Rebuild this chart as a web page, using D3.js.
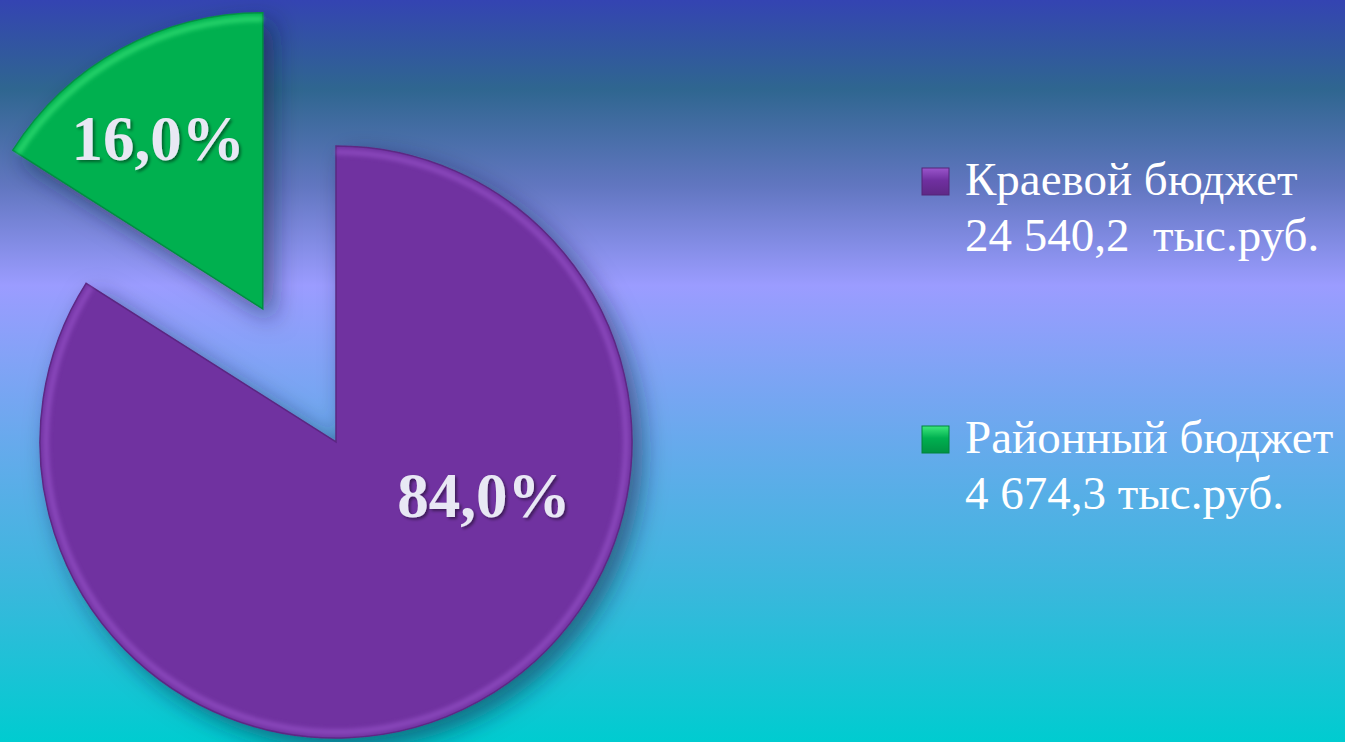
<!DOCTYPE html>
<html>
<head>
<meta charset="utf-8">
<script src="https://cdn.jsdelivr.net/npm/d3@7"></script>
<style>
  html, body { margin: 0; padding: 0; overflow: hidden; }
  svg { display: block; }
  .legend-text { font-family: "Liberation Serif", "Times New Roman", serif; fill: #ffffff; }
  .pct { font-family: "Liberation Serif", "Times New Roman", serif; font-weight: bold; fill: #e8e8f4; }
</style>
</head>
<body>
<svg></svg>
<script>
// data
const categories = ["Краевой бюджет", "Районный бюджет"];
const amounts = ["24 540,2  тыс.руб.", "4 674,3 тыс.руб."];
const values = [24540.2, 4674.3];
const percentLabels = ["84,0%", "16,0%"];
const colors = ["#7030a0", "#00b050"];
const highlights = ["#9a55cc", "#3de87c"];
const explode = [0, 152];

const width = 1345;
const height = 742;

const svg = d3.select("svg").attr("width", width).attr("height", height);
const defs = svg.append("defs");

// background gradient
const bg = defs.append("linearGradient")
  .attr("id", "bg").attr("x1", 0).attr("y1", 0).attr("x2", 0).attr("y2", 1);
[
  [0, "#3444b2"],
  [0.12, "#2f6690"],
  [0.25, "#6176c0"],
  [0.385, "#9b9cff"],
  [0.6, "#66aaec"],
  [0.8, "#38b8dc"],
  [1, "#00ccd0"],
].forEach(([o, c]) => bg.append("stop").attr("offset", o).attr("stop-color", c));

svg.append("rect").attr("width", width).attr("height", height).attr("fill", "url(#bg)");

const shadow = defs.append("filter").attr("id", "shadow")
  .attr("x", "-30%").attr("y", "-30%").attr("width", "160%").attr("height", "160%");
shadow.append("feDropShadow")
  .attr("dx", 10).attr("dy", 10).attr("stdDeviation", 12)
  .attr("flood-color", "#102040").attr("flood-opacity", 0.55);

const soft = defs.append("filter").attr("id", "soft");
soft.append("feGaussianBlur").attr("stdDeviation", 2);

const textShadow = defs.append("filter").attr("id", "tshadow");
textShadow.append("feDropShadow")
  .attr("dx", 2).attr("dy", 2).attr("stdDeviation", 1.5)
  .attr("flood-color", "#000").attr("flood-opacity", 0.45);

// legend marker bevel
colors.forEach((c, i) => {
  const lg = defs.append("linearGradient")
    .attr("id", `mk${i}`).attr("x1", 0).attr("y1", 0).attr("x2", 0).attr("y2", 1);
  lg.append("stop").attr("offset", 0).attr("stop-color", highlights[i]);
  lg.append("stop").attr("offset", 0.45).attr("stop-color", c);
  lg.append("stop").attr("offset", 1).attr("stop-color", d3.color(c).darker(0.5));
});

// pie
const radius = 296;
const cx = 336;
const cy = 442;

const pie = d3.pie().sort(null).value((d) => d);
const arcs = pie(values);
const arc = d3.arc().innerRadius(0).outerRadius(radius);
const rim = d3.arc().innerRadius(radius - 9).outerRadius(radius - 3);

const g = svg.append("g").attr("transform", `translate(${cx}, ${cy})`);

const offset = (d, i) => {
  const mid = (d.startAngle + d.endAngle) / 2;
  return [Math.sin(mid) * explode[i], -Math.cos(mid) * explode[i]];
};

const slices = g.selectAll("g.slice")
  .data(arcs)
  .enter()
  .append("g")
  .attr("class", "slice")
  .attr("transform", (d, i) => `translate(${offset(d, i)})`);

slices.append("path")
  .attr("d", arc)
  .attr("fill", (d, i) => colors[i])
  .attr("stroke", (d, i) => d3.color(colors[i]).darker(0.6))
  .attr("stroke-width", 1.5)
  .attr("filter", "url(#shadow)");

slices.append("path")
  .attr("d", rim)
  .attr("fill", (d, i) => highlights[i])
  .attr("opacity", 0.6)
  .attr("filter", "url(#soft)");

// percent labels: [angle, distance] from slice apex
const labelPlace = [[1.915, 157], [-0.55, 200]];
slices.append("text")
  .attr("class", "pct")
  .attr("font-size", 63)
  .attr("text-anchor", "middle")
  .attr("dy", "0.35em")
  .attr("filter", "url(#tshadow)")
  .attr("x", (d, i) => Math.sin(labelPlace[i][0]) * labelPlace[i][1])
  .attr("y", (d, i) => -Math.cos(labelPlace[i][0]) * labelPlace[i][1])
  .text((d, i) => percentLabels[i]);

// legend
const legendY = d3.scalePoint().domain(categories).range([182, 440]);
const legend = svg.append("g").attr("transform", "translate(922, 0)");

const items = legend.selectAll("g.item")
  .data(categories)
  .enter()
  .append("g")
  .attr("class", "item")
  .attr("transform", (d) => `translate(0, ${legendY(d)})`);

items.append("rect")
  .attr("x", 0).attr("y", -14)
  .attr("width", 27).attr("height", 27)
  .attr("fill", (d, i) => `url(#mk${i})`)
  .attr("stroke", (d, i) => d3.color(colors[i]).darker(0.8))
  .attr("stroke-width", 1);

items.append("text")
  .attr("class", "legend-text")
  .attr("x", 43).attr("y", 13)
  .attr("font-size", 47)
  .text((d) => d);

items.append("text")
  .attr("class", "legend-text")
  .attr("x", 43).attr("y", 69)
  .attr("font-size", 47)
  .style("white-space", "pre")
  .attr("xml:space", "preserve")
  .text((d, i) => amounts[i]);
</script>
</body>
</html>
